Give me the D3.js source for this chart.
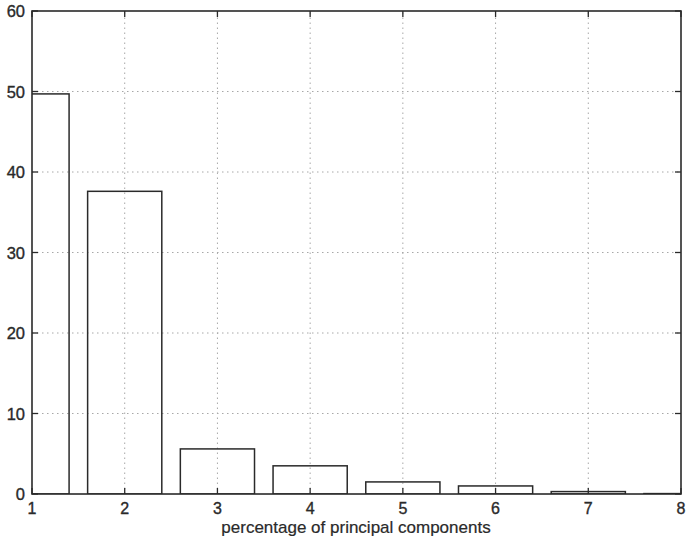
<!DOCTYPE html>
<html><head><meta charset="utf-8">
<script src="https://cdn.jsdelivr.net/npm/d3@7"></script>
<style>body{margin:0;background:#fff}svg{display:block}</style>
</head><body>
<script>
const components = [1, 2, 3, 4, 5, 6, 7, 8];
const percentages = [49.7, 37.6, 5.6, 3.5, 1.5, 1.0, 0.3, 0.05];
const xTicks = [1, 2, 3, 4, 5, 6, 7, 8];
const yTicks = [0, 10, 20, 30, 40, 50, 60];
const xLabel = "percentage of principal components";

const W = 686, H = 541;
const m = {left: 32, right: 5, top: 11, bottom: 47};
const svg = d3.select("body").append("svg").attr("width", W).attr("height", H);
const x = d3.scaleLinear().domain([1, 8]).range([m.left, W - m.right]);
const y = d3.scaleLinear().domain([0, 60]).range([H - m.bottom, m.top]);
const ink = "#2a2a2a";
const font = "'Liberation Sans', Arial, sans-serif";

// grid
const g = svg.append("g");
g.selectAll(".gx").data(xTicks.slice(1, -1)).enter().append("line")
  .attr("x1", d => x(d)).attr("x2", d => x(d)).attr("y1", y(0)).attr("y2", y(60))
  .attr("stroke", "#a8a8a8").attr("stroke-width", 1).attr("stroke-dasharray", "1.5,3.5");
g.selectAll(".gy").data(yTicks.slice(1, -1)).enter().append("line")
  .attr("y1", d => y(d)).attr("y2", d => y(d)).attr("x1", x(1)).attr("x2", x(8))
  .attr("stroke", "#a8a8a8").attr("stroke-width", 1).attr("stroke-dasharray", "1.5,3.5");

// clip
svg.append("clipPath").attr("id", "clip").append("rect")
  .attr("x", x(1)).attr("y", y(60)).attr("width", x(8) - x(1)).attr("height", y(0) - y(60));

const bw = 0.8;
svg.append("g").attr("clip-path", "url(#clip)")
  .selectAll("rect").data(components).enter().append("rect")
  .attr("x", (d) => x(d - bw / 2))
  .attr("width", (d) => x(d + bw / 2) - x(d - bw / 2))
  .attr("y", (d, i) => y(percentages[i]))
  .attr("height", (d, i) => y(0) - y(percentages[i]))
  .attr("fill", "none").attr("stroke", ink).attr("stroke-width", 1.5);

// ticks (inward, all four sides)
const tl = 6;
const tk = svg.append("g").attr("stroke", ink).attr("stroke-width", 1.3);
xTicks.forEach(d => {
  tk.append("line").attr("x1", x(d)).attr("x2", x(d)).attr("y1", y(0)).attr("y2", y(0) - tl);
  tk.append("line").attr("x1", x(d)).attr("x2", x(d)).attr("y1", y(60)).attr("y2", y(60) + tl);
});
yTicks.forEach(d => {
  tk.append("line").attr("y1", y(d)).attr("y2", y(d)).attr("x1", x(1)).attr("x2", x(1) + tl);
  tk.append("line").attr("y1", y(d)).attr("y2", y(d)).attr("x1", x(8)).attr("x2", x(8) - tl);
});

// frame
svg.append("rect").attr("x", x(1)).attr("y", y(60)).attr("width", x(8) - x(1)).attr("height", y(0) - y(60))
  .attr("fill", "none").attr("stroke", ink).attr("stroke-width", 1.6);

// labels
svg.append("g").selectAll("text").data(xTicks).enter().append("text")
  .attr("x", d => x(d)).attr("y", y(0) + 19.5).attr("text-anchor", "middle")
  .attr("font-family", font).attr("font-size", 16).attr("fill", ink)
  .attr("stroke", ink).attr("stroke-width", 0.35).text(d => d);
svg.append("g").selectAll("text").data(yTicks).enter().append("text")
  .attr("x", x(1) - 7).attr("y", d => y(d) + 6).attr("text-anchor", "end")
  .attr("font-family", font).attr("font-size", 16.5).attr("fill", ink)
  .attr("stroke", ink).attr("stroke-width", 0.35).text(d => d);
svg.append("text").attr("x", 356).attr("y", 533).attr("text-anchor", "middle")
  .attr("font-family", font).attr("font-size", 17).attr("fill", ink)
  .attr("stroke", ink).attr("stroke-width", 0.2).text(xLabel);
</script>
</body></html>
